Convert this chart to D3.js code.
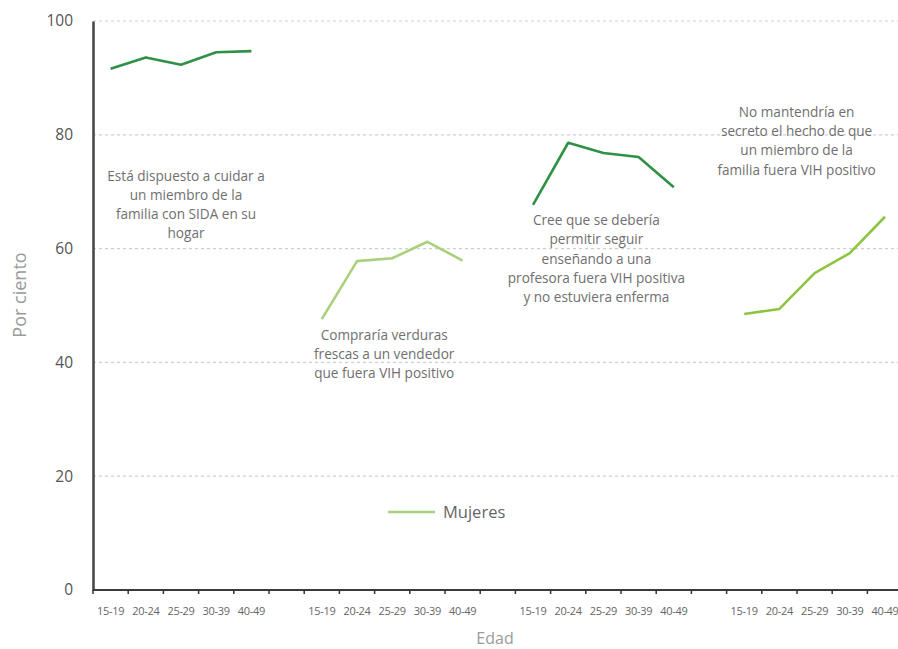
<!DOCTYPE html>
<html>
<head>
<meta charset="utf-8">
<script src="https://cdn.jsdelivr.net/npm/d3@7"></script>
<style>
  html, body { margin: 0; padding: 0; background: #fff; }
  svg { display: block; }
</style>
</head>
<body>
<svg id="chart" width="898" height="649"></svg>
<script>
// ---- Data ----
const ageGroups = ["15-19", "20-24", "25-29", "30-39", "40-49"];
const yTicks = [0, 20, 40, 60, 80, 100];
const panelNames = ["cuidar", "verduras", "profesora", "secreto"];
const cuidarValues = [91.6, 93.6, 92.3, 94.5, 94.7];
const verdurasValues = [47.6, 57.8, 58.3, 61.2, 57.9];
const profesoraValues = [67.7, 78.6, 76.8, 76.1, 70.8];
const secretoValues = [48.5, 49.4, 55.7, 59.2, 65.6];
const panelLabels = [
  ["Está dispuesto a cuidar a", "un miembro de la", "familia con SIDA en su", "hogar"],
  ["Compraría verduras", "frescas a un vendedor", "que fuera VIH positivo"],
  ["Cree que se debería", "permitir seguir", "enseñando a una", "profesora fuera VIH positiva", "y no estuviera enferma"],
  ["No mantendría en", "secreto el hecho de que", "un miembro de la", "familia fuera VIH positivo"]
];
const labelValues = [72.8, 44.8, 65, 84]; // vertical anchor (percent) of each annotation's first line
const legendLabel = "Mujeres";
const yTitle = "Por ciento";
const xTitle = "Edad";

// ---- Styles ----
const darkGreen = "#2f9146";
const paleGreen = "#a9d07c";
const brightGreen = "#8dc540";
const panelColors = [darkGreen, paleGreen, darkGreen, brightGreen];
const labelShift = [5, -8, -7, -18];
const font = "'Open Sans', 'DejaVu Sans', sans-serif";

const svg = d3.select("#chart");
const plotLeft = 93, plotTop = 21, plotBottom = 590, band = 35.2;

// slots: 5 age groups per panel with an empty slot between panels
const slots = [];
panelNames.forEach((p, i) => {
  ageGroups.forEach(a => slots.push(p + "|" + a));
  if (i < panelNames.length - 1) slots.push("gap" + i);
});
const x = d3.scaleBand().domain(slots).range([plotLeft, plotLeft + slots.length * band]).padding(0);
const y = d3.scaleLinear().domain([0, 100]).range([plotBottom, plotTop]);

// gridlines
svg.append("g").selectAll("line").data(yTicks.filter(d => d > 0)).join("line")
  .attr("x1", plotLeft).attr("x2", 898)
  .attr("y1", d => y(d)).attr("y2", d => y(d))
  .attr("stroke", "#cfcfcf").attr("stroke-width", 1.2).attr("stroke-dasharray", "3,3");

// y axis
const yAxis = d3.axisLeft(y).tickValues(yTicks).tickSize(0).tickPadding(20);
const gy = svg.append("g").attr("transform", `translate(${plotLeft},0)`).call(yAxis);
gy.select(".domain").attr("stroke", "#4a4a4a").attr("stroke-width", 2.6);
gy.selectAll("text").attr("font-family", font).attr("font-size", 15.5).attr("fill", "#555");

// x axis
const xAxis = d3.axisBottom(x).tickSize(0).tickPadding(17).tickFormat(d => d.startsWith("gap") ? "" : d.split("|")[1]);
const gx = svg.append("g").attr("transform", `translate(0,${plotBottom})`).call(xAxis);
gx.select(".domain").attr("stroke", "#3a3a3a").attr("stroke-width", 2).attr("d", `M${plotLeft},0H${plotLeft + slots.length * band}`);
gx.selectAll("text").attr("font-family", font).attr("font-size", 11).attr("fill", "#666").attr("letter-spacing", -0.3);
// boundary tick marks
svg.append("g").selectAll("line").data(slots).join("line")
  .attr("x1", d => x(d)).attr("x2", d => x(d))
  .attr("y1", plotBottom).attr("y2", plotBottom + 4)
  .attr("stroke", "#333").attr("stroke-width", 1.5);

// lines
const allValues = [cuidarValues, verdurasValues, profesoraValues, secretoValues];
const line = d3.line().x(d => d[0]).y(d => d[1]);
panelNames.forEach((p, i) => {
  const pts = allValues[i].map((v, j) => [x(p + "|" + ageGroups[j]) + x.bandwidth() / 2, y(v)]);
  svg.append("path").attr("d", line(pts))
    .attr("fill", "none").attr("stroke", panelColors[i]).attr("stroke-width", 2.6)
    .attr("stroke-linejoin", "round");
});

// annotations
panelNames.forEach((p, i) => {
  const cx = (x(p + "|" + ageGroups[0]) + x(p + "|" + ageGroups[4]) + x.bandwidth()) / 2 + labelShift[i];
  const t = svg.append("text").attr("text-anchor", "middle")
    .attr("font-family", font).attr("font-size", 13.6).attr("fill", "#6f6f6f");
  panelLabels[i].forEach((s, k) => {
    t.append("tspan").attr("x", cx).attr("y", y(labelValues[i]) + k * 19.3).attr("dy", "0.35em").text(s);
  });
});

// legend
svg.append("line").attr("x1", 388).attr("x2", 435).attr("y1", 512).attr("y2", 512)
  .attr("stroke", paleGreen).attr("stroke-width", 2.6);
svg.append("text").attr("x", 443).attr("y", 512).attr("dy", "0.35em")
  .attr("font-family", font).attr("font-size", 16.5).attr("fill", "#666").text(legendLabel);

// axis titles
svg.append("text").attr("transform", "translate(20,295) rotate(-90)").attr("text-anchor", "middle")
  .attr("dy", "0.35em").attr("font-family", font).attr("font-size", 18).attr("fill", "#9a9a9a").text(yTitle);
svg.append("text").attr("x", 495).attr("y", 644).attr("text-anchor", "middle")
  .attr("font-family", font).attr("font-size", 16).attr("fill", "#9a9a9a").text(xTitle);
</script>
</body>
</html>
